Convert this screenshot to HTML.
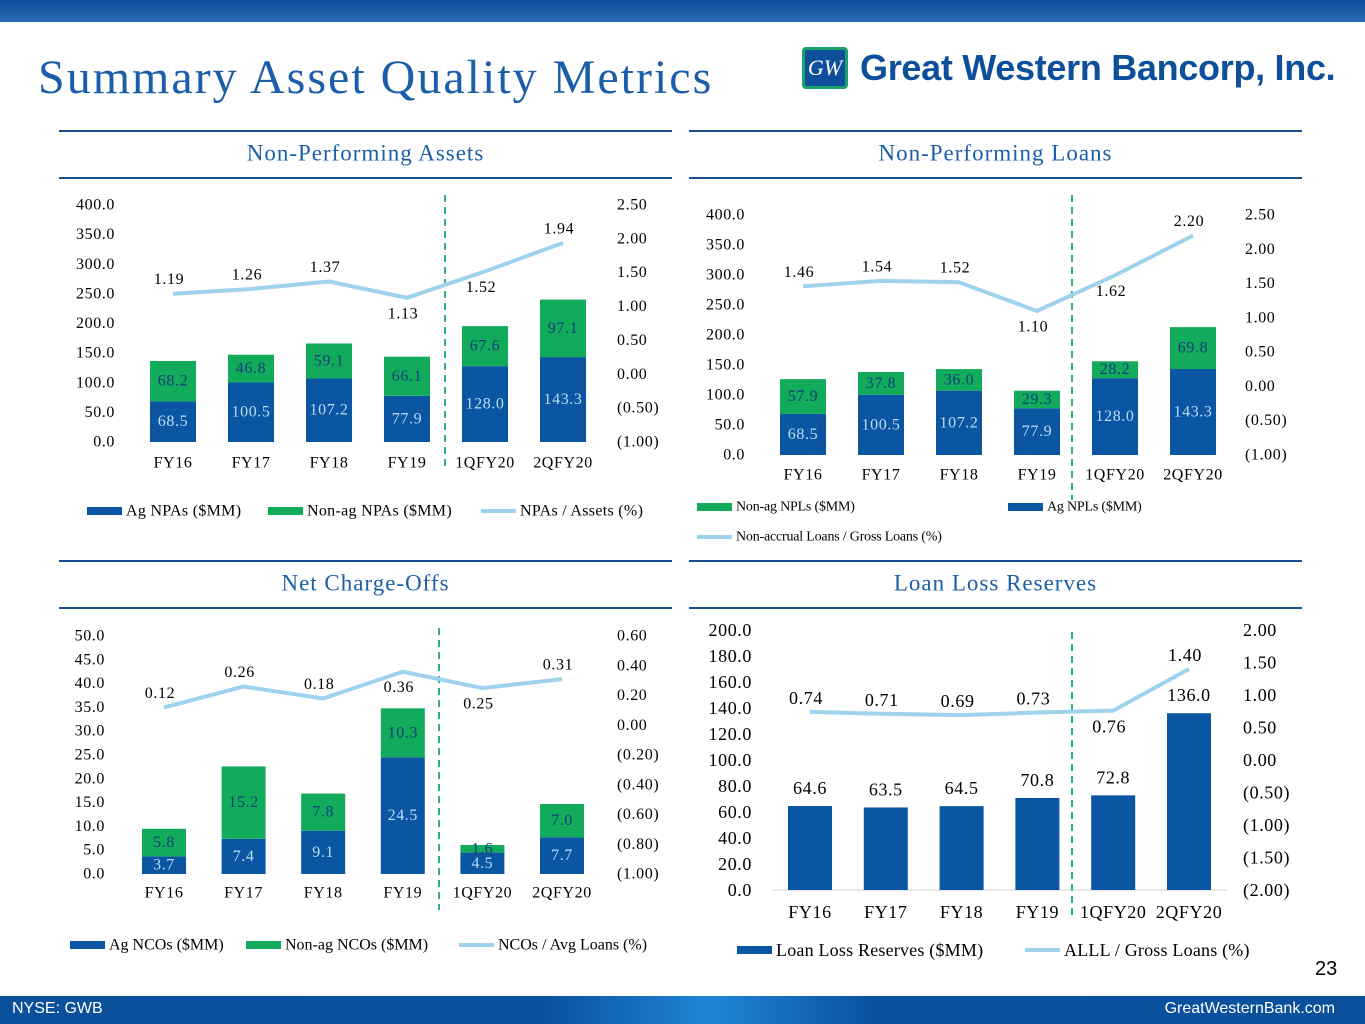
<!DOCTYPE html>
<html><head><meta charset="utf-8"><style>
body{margin:0;width:1365px;height:1024px;overflow:hidden;background:#fff;font-family:"Liberation Serif",serif;position:relative}
#top{position:absolute;left:0;top:0;width:1365px;height:22px;background:linear-gradient(#0b4f9c,#2a6db5);}
#foot{position:absolute;left:0;top:996px;width:1365px;height:28px;background:linear-gradient(90deg,#0a4f9a 0%,#0a52a0 40%,#1f86d6 52%,#0a52a0 64%,#0a4f9a 100%);color:#fff;font-family:"Liberation Sans",sans-serif;font-size:16px;transform-origin:0 0}
#title{position:absolute;left:38px;top:50px;font-size:48px;letter-spacing:2px;color:#1a5ea9;font-family:"Liberation Serif",serif;white-space:nowrap}
</style></head><body>
<div id="top"></div>
<div id="title">Summary Asset Quality Metrics</div>
<div style="position:absolute;left:800px;top:45px;width:540px;height:46px">
 <div style="position:absolute;left:2px;top:2px;width:46px;height:42px;background:#0d4f9a;border:3px solid #1aa06a;border-radius:4px;box-sizing:border-box;color:#fff;font-style:italic;font-size:22px;text-align:center;line-height:36px">GW</div>
 <div style="position:absolute;left:60px;top:2px;font-family:'Liberation Sans',sans-serif;font-weight:bold;font-size:36px;color:#0d4f9a;letter-spacing:-0.3px;white-space:nowrap">Great Western Bancorp, Inc.</div>
</div>
<svg id="svg" width="1365" height="1024" style="position:absolute;left:0;top:0"></svg>
<div style="position:absolute;left:1315px;top:958px;font-size:20px;font-family:'Liberation Sans',sans-serif">23</div>
<div id="foot"><span style="position:absolute;left:12px;top:4px">NYSE: GWB</span><span style="position:absolute;right:30px;top:4px">GreatWesternBank.com</span></div>
<script>
const npaCategories=["FY16","FY17","FY18","FY19","1QFY20","2QFY20"];
const npaAg=[68.5,100.5,107.2,77.9,128.0,143.3];
const npaNonAg=[68.2,46.8,59.1,66.1,67.6,97.1];
const npaRatio=[1.19,1.26,1.37,1.13,1.52,1.94];
const npaRatioPos=["a","a","a","b","b","a"];
const nplCategories=["FY16","FY17","FY18","FY19","1QFY20","2QFY20"];
const nplAg=[68.5,100.5,107.2,77.9,128.0,143.3];
const nplNonAg=[57.9,37.8,36.0,29.3,28.2,69.8];
const nplRatio=[1.46,1.54,1.52,1.10,1.62,2.20];
const nplRatioPos=["a","a","a","b","b","a"];
const ncoCategories=["FY16","FY17","FY18","FY19","1QFY20","2QFY20"];
const ncoAg=[3.7,7.4,9.1,24.5,4.5,7.7];
const ncoNonAg=[5.8,15.2,7.8,10.3,1.6,7.0];
const ncoRatio=[0.12,0.26,0.18,0.36,0.25,0.31];
const ncoRatioPos=["a","a","a","b","b","a"];
const llrCategories=["FY16","FY17","FY18","FY19","1QFY20","2QFY20"];
const llrReserves=[64.6,63.5,64.5,70.8,72.8,136.0];
const llrRatio=[0.74,0.71,0.69,0.73,0.76,1.40];
const llrRatioPos=["a","a","a","a","b","a"];
const leftTicks1=[0,50,100,150,200,250,300,350,400];
const rightTicks1=[-1,-0.5,0,0.5,1,1.5,2,2.5];
const leftTicks3=[0,5,10,15,20,25,30,35,40,45,50];
const rightTicks3=[-1,-0.8,-0.6,-0.4,-0.2,0,0.2,0.4,0.6];
const leftTicks4=[0,20,40,60,80,100,120,140,160,180,200];
const rightTicks4=[-2,-1.5,-1,-0.5,0,0.5,1,1.5,2];

const NS="http://www.w3.org/2000/svg",svg=document.getElementById('svg');
const BLUE="#0b56a2",GREEN="#12ab5b",LINE="#9fd2ec",DARK="#0f3e7a";
function el(t,a,p){const e=document.createElementNS(NS,t);for(const k in a)e.setAttribute(k,a[k]);(p||svg).appendChild(e);return e;}
function txt(x,y,s,size,anchor,fill,g,ls){const e=el('text',{x:x,y:y,'font-size':size,'text-anchor':anchor||'start',fill:fill||'#000','dominant-baseline':'central','font-family':'Liberation Serif, serif','letter-spacing':(ls===undefined?0.6:ls)},g);e.textContent=s;return e;}
function fmt(v,d){const s=Math.abs(v).toFixed(d);return v<0?"("+s+")":s;}
function scale(d0,d1,r0,r1){return v=>r0+(v-d0)/(d1-d0)*(r1-r0);}

function header(x,y,w,title,name){
  const g=el('g',{});
  
  el('line',{x1:x,x2:x+w,y1:y,y2:y,stroke:'#1a4f8f','stroke-width':2},g);
  el('line',{x1:x,x2:x+w,y1:y+47,y2:y+47,stroke:'#1a4f8f','stroke-width':2},g);
  txt(x+w/2,y+22,title,23,'middle','#1a5ea9',g,1);
}
header(59,131,613,"Non-Performing Assets","header-npa");
header(689,131,613,"Non-Performing Loans","header-npl");
header(59,561,613,"Net Charge-Offs","header-nco");
header(689,561,613,"Loan Loss Reserves","header-llr");

function chart(c){
  const g=el('g',{});
  const yL=scale(c.lt[0],c.lt[c.lt.length-1],c.yb,c.yt);
  const yR=scale(c.rt[0],c.rt[c.rt.length-1],c.yb,c.yt);
  const xC=i=>c.x0+i*c.dx;
  c.lt.forEach(v=>{const t=txt(c.lx,yL(v),v.toFixed(1),c.fs,'end','#000',g);});
  c.rt.forEach(v=>{const t=txt(c.rx,yR(v),fmt(v,2),c.fs,'start','#000',g);});
  if(c.axisLine)el('line',{x1:c.x0-c.dx/2,x2:xC(c.cats.length-1)+c.dx/2,y1:c.yb,y2:c.yb,stroke:'#d0d0d0'},g);
  c.cats.forEach((s,i)=>{const t=txt(xC(i),c.catY,s,c.fs,'middle','#000',g);});
  el('line',{x1:c.dash,x2:c.dash,y1:c.dy0,y2:c.dy1,stroke:'#2bb673','stroke-width':2,'stroke-dasharray':'7,5'},g);
  c.cats.forEach((s,i)=>{
    const a=c.ag[i],top=yL(a);
    const b=el('rect',{x:xC(i)-c.bw/2,y:top,width:c.bw,height:c.yb-top,fill:BLUE},g);
    
    if(c.non){
      const t2=yL(a+c.non[i]);
      const r=el('rect',{x:xC(i)-c.bw/2,y:t2,width:c.bw,height:top-t2,fill:GREEN},g);
      
      txt(xC(i),(top+c.yb)/2,a.toFixed(1),c.fs,'middle','#b9dcf5',g);
      txt(xC(i),(top+t2)/2,c.non[i].toFixed(1),c.fs,'middle',DARK,g);
    } else {
      txt(xC(i),top-18,a.toFixed(1),c.fs,'middle','#000',g);
    }
  });
  const pts=c.ratio.map((v,i)=>xC(i)+','+yR(v)).join(' ');
  const pl=el('polyline',{points:pts,fill:'none',stroke:LINE,'stroke-width':4},g);
  
  c.ratio.forEach((v,i)=>txt(xC(i)-4,yR(v)+(c.pos[i]=='a'?-14:16),v.toFixed(2),c.fs,'middle','#000',g));
  c.legend.forEach(L=>{
    const lg=el('g',{},g);
    if(L.t=='line')el('line',{x1:L.x,x2:L.x+35,y1:L.y,y2:L.y,stroke:LINE,'stroke-width':4},lg);
    else el('rect',{x:L.x,y:L.y-4,width:35,height:8,fill:L.t=='ag'?BLUE:GREEN},lg);
    txt(L.x+39,L.y,L.s,L.fs,'start','#000',lg,L.ls);
  });
}
chart({name:'chart-npa',cats:npaCategories,ag:npaAg,non:npaNonAg,ratio:npaRatio,pos:npaRatioPos,lt:leftTicks1,rt:rightTicks1,
 yb:442,yt:205,x0:173,dx:78,bw:46,lx:115,rx:617,fs:16,catY:463,dash:445,dy0:195,dy1:470,
 legend:[{t:'ag',x:87,y:511,s:'Ag NPAs ($MM)',n:'ag-npa',fs:16,ls:0.3},{t:'non',x:268,y:511,s:'Non-ag NPAs ($MM)',n:'nonag-npa',fs:16,ls:0.3},{t:'line',x:481,y:511,s:'NPAs / Assets (%)',n:'npa-ratio',fs:16,ls:0.3}]});
chart({name:'chart-npl',cats:nplCategories,ag:nplAg,non:nplNonAg,ratio:nplRatio,pos:nplRatioPos,lt:leftTicks1,rt:rightTicks1,
 yb:455,yt:215,x0:803,dx:78,bw:46,lx:745,rx:1245,fs:16,catY:475,dash:1072,dy0:195,dy1:500,
 legend:[{t:'non',x:697,y:507,s:'Non-ag NPLs ($MM)',n:'nonag-npl',fs:14,ls:-0.2},{t:'ag',x:1008,y:507,s:'Ag NPLs ($MM)',n:'ag-npl',fs:14,ls:-0.2},{t:'line',x:697,y:537,s:'Non-accrual Loans / Gross Loans (%)',n:'npl-ratio',fs:14,ls:-0.2}]});
chart({name:'chart-nco',cats:ncoCategories,ag:ncoAg,non:ncoNonAg,ratio:ncoRatio,pos:ncoRatioPos,lt:leftTicks3,rt:rightTicks3,
 yb:874,yt:636,x0:164,dx:79.6,bw:44,lx:105,rx:617,fs:16,catY:893,dash:439,dy0:628,dy1:910,
 legend:[{t:'ag',x:70,y:945,s:'Ag NCOs ($MM)',n:'ag-nco',fs:16,ls:0},{t:'non',x:246,y:945,s:'Non-ag NCOs ($MM)',n:'nonag-nco',fs:16,ls:0},{t:'line',x:459,y:945,s:'NCOs / Avg Loans (%)',n:'nco-ratio',fs:16,ls:0}]});
chart({name:'chart-llr',cats:llrCategories,ag:llrReserves,non:null,ratio:llrRatio,pos:llrRatioPos,lt:leftTicks4,rt:rightTicks4,
 yb:890,yt:630,x0:810,dx:75.8,bw:44,lx:752,rx:1243,fs:18,catY:912,dash:1072,dy0:632,dy1:915,axisLine:true,
 legend:[{t:'ag',x:737,y:950,s:'Loan Loss Reserves ($MM)',n:'llr',fs:18,ls:0.2},{t:'line',x:1025,y:950,s:'ALLL / Gross Loans (%)',n:'llr-ratio',fs:18,ls:0.2}]});
</script>
</body></html>
